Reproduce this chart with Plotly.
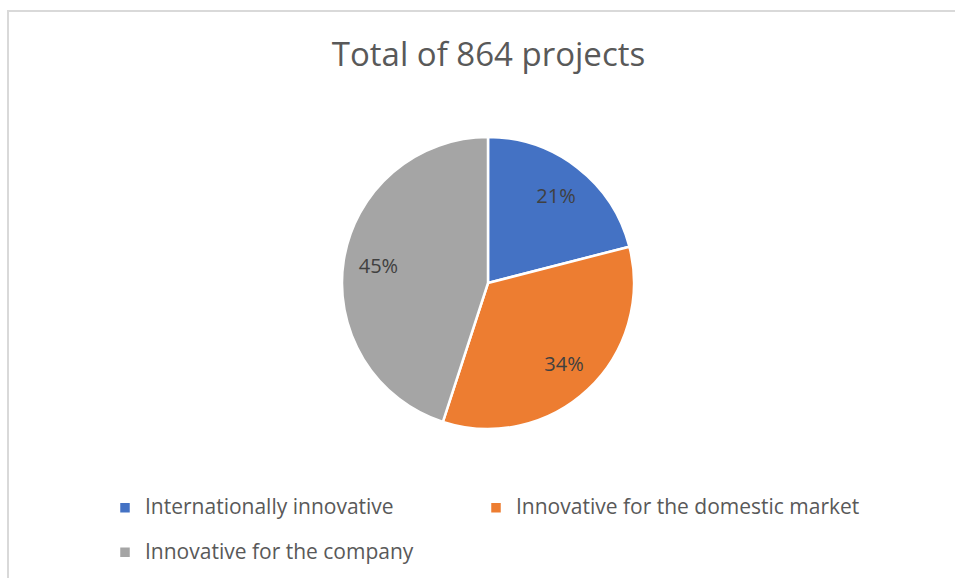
import plotly.graph_objects as go

title_text = "Total of 864 projects"
categories = ["Internationally innovative", "Innovative for the domestic market", "Innovative for the company"]
shares = [21, 34, 45]
colors = ["#4472C4", "#ED7D31", "#A5A5A5"]

W, H = 955, 578
cx, cy, r = 488, 283, 146
domain = dict(x=[(cx - r) / W, (cx + r) / W], y=[(H - cy - r) / H, (H - cy + r) / H])

legend_labels = ["<span style='font-size:21px'>" + c + "</span><br> " for c in categories]

# visible pie (slices + legend)
pie = go.Pie(
    labels=legend_labels,
    values=shares,
    sort=False,
    direction="clockwise",
    rotation=0,
    marker=dict(colors=colors, line=dict(color="white", width=2.5)),
    textinfo="none",
    hovertemplate="%{customdata}: %{percent:.0%}<extra></extra>",
    customdata=categories,
    domain=domain,
    showlegend=True,
)

# transparent ring overlay used only to place the percentage labels further out
labels_ring = go.Pie(
    labels=categories,
    values=shares,
    sort=False,
    direction="clockwise",
    rotation=0,
    hole=0.52,
    marker=dict(colors=["rgba(0,0,0,0)"] * len(shares), line=dict(width=0)),
    texttemplate="%{percent:.0%}",
    textposition="inside",
    insidetextorientation="horizontal",
    textfont=dict(family="Open Sans", size=20, color="#404040"),
    hoverinfo="skip",
    domain=domain,
    showlegend=False,
)

fig = go.Figure([pie, labels_ring])

fig.update_layout(
    width=W, height=H,
    margin=dict(l=0, r=0, t=0, b=0, autoexpand=False),
    paper_bgcolor="white",
    title=dict(text=title_text, x=488.5 / W, xanchor="center", y=1 - 54.5 / H, yanchor="middle",
               font=dict(family="Open Sans", size=33, color="#595959")),
    legend=dict(orientation="h", x=105 / W, xanchor="left", y=1 - 470 / H, yanchor="top",
                valign="top", entrywidth=326, entrywidthmode="pixels",
                # blank, wide legend title so the legend box is wide enough not to clip the last column
                title=dict(text="&nbsp;" * 200, side="top", font=dict(family="Open Sans", size=16)),
                font=dict(family="Open Sans", size=16, color="#595959"),
                itemclick=False, itemdoubleclick=False),
    shapes=[
        dict(type="rect", xref="paper", yref="paper", x0=8 / W, x1=1.02, y0=-0.05, y1=1 - 11 / H,
             line=dict(color="#D9D9D9", width=2), fillcolor="rgba(0,0,0,0)", layer="below"),
    ],
)

fig.write_html("out.html")
